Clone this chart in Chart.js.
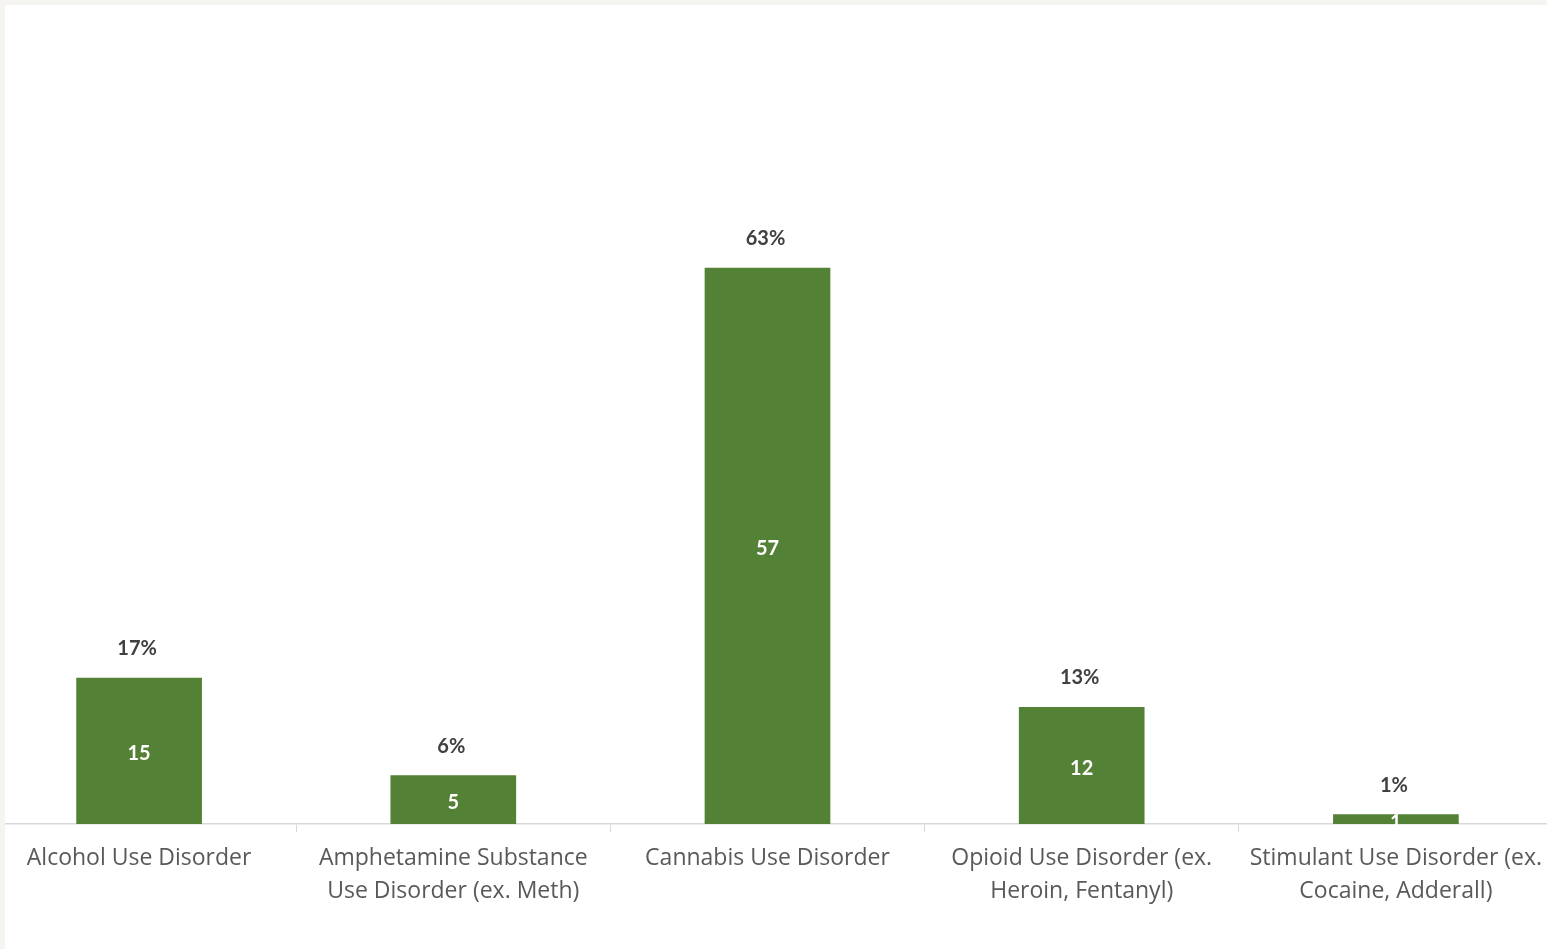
<!DOCTYPE html>
<html>
<head>
<meta charset="utf-8">
<script src="https://cdn.jsdelivr.net/npm/chart.js@4.4.0/dist/chart.umd.min.js"></script>
<style>
html,body{margin:0;padding:0;background:#fff;overflow:hidden;width:1547px;height:949px;}
#wrap{position:absolute;left:-18px;top:0;width:1571px;height:949px;}
#edge{position:absolute;left:0;top:0;width:5px;height:949px;background:#f6f4f1;}
#edgeTop{position:absolute;left:0;top:0;width:1547px;height:5px;background:#f6f4f1;}
#pre{position:absolute;left:-9999px;top:0;font-family:'Open Sans';font-size:23px;}
#pre2{position:absolute;left:-9999px;top:0;font-family:Lato;font-weight:bold;font-size:20px;}
</style>
</head>
<body>
<div id="pre">Alcohol Use Disorder</div><div id="pre2">17%</div>
<div id="wrap"><canvas id="c" width="1571" height="949"></canvas></div>
<div id="edge"></div><div id="edgeTop"></div>
<script>
const categories = [
  ["Alcohol Use Disorder"],
  ["Amphetamine Substance", "Use Disorder (ex. Meth)"],
  ["Cannabis Use Disorder"],
  ["Opioid Use Disorder (ex.", "Heroin, Fentanyl)"],
  ["Stimulant Use Disorder (ex.", "Cocaine, Adderall)"]
];
const counts = [15, 5, 57, 12, 1];
const percentLabels = ["17%", "6%", "63%", "13%", "1%"];

const labelPlugin = {
  id: 'barLabels',
  afterDatasetsDraw(chart) {
    const ctx = chart.ctx;
    const meta = chart.getDatasetMeta(0);
    ctx.save();
    ctx.textAlign = 'center';
    ctx.textBaseline = 'middle';
    ctx.font = 'bold 20px Lato, sans-serif';
    meta.data.forEach((bar, i) => {
      const mid = (bar.y + bar.base) / 2 + 3;
      ctx.fillStyle = '#ffffff';
      ctx.fillText(String(counts[i]), bar.x, mid);
      ctx.fillStyle = '#404040';
      ctx.fillText(percentLabels[i], bar.x - 2, bar.y - 29);
    });
    ctx.restore();
  }
};

function draw() {
  new Chart(document.getElementById('c'), {
    type: 'bar',
    data: {
      labels: categories,
      datasets: [{
        data: counts,
        backgroundColor: '#538135',
        borderWidth: 0,
        categoryPercentage: 1.0,
        barPercentage: 0.4
      }]
    },
    options: {
      responsive: false,
      animation: false,
      layout: { padding: { top: 141, bottom: 31, left: 0, right: 0 } },
      plugins: { legend: { display: false }, tooltip: { enabled: false } },
      scales: {
        y: { display: false, min: 0, max: 70 },
        x: {
          grid: { display: true, drawOnChartArea: false, drawTicks: true, tickLength: 8, color: '#d9d9d9', offset: true },
          border: { display: true, color: '#d9d9d9', width: 1.5 },
          ticks: {
            color: '#595959',
            padding: 10,
            maxRotation: 0,
            autoSkip: false,
            font: { family: "'Open Sans', sans-serif", size: 23, lineHeight: 33 / 23 }
          }
        }
      }
    },
    plugins: [labelPlugin]
  });
}
if (document.fonts && document.fonts.load) {
  Promise.all([document.fonts.load("23px 'Open Sans'"), document.fonts.load("bold 20px Lato")]).then(draw, draw);
} else { draw(); }
</script>
</body>
</html>
